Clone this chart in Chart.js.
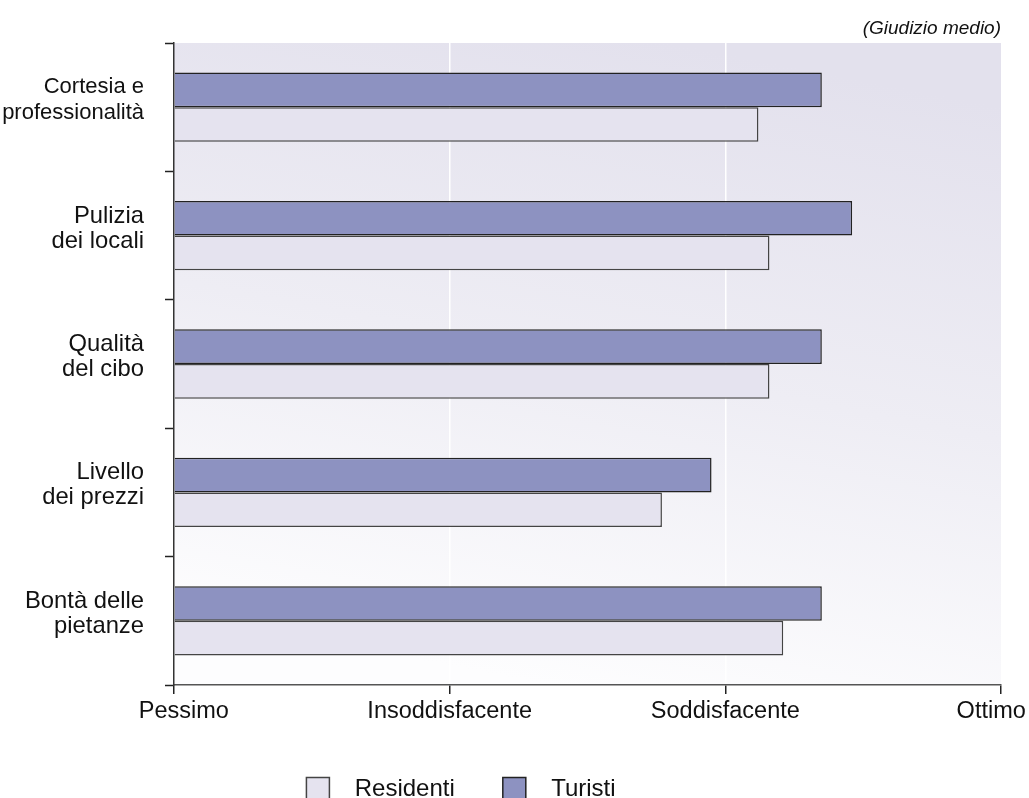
<!DOCTYPE html>
<html>
<head>
<meta charset="utf-8">
<script src="https://cdn.jsdelivr.net/npm/chart.js@4"></script>
<style>
  html, body { margin: 0; padding: 0; background: #fff; }
  #wrap { width: 1029px; height: 798px; }
</style>
</head>
<body>
<div id="wrap"><canvas id="chart" width="1029" height="798"></canvas></div>
<script>
// giudizio medio: 0 = Pessimo ... 3 = Ottimo
const categories = [
    ['Cortesia e', 'professionalità'],
    ['Pulizia', 'dei locali'],
    ['Qualità', 'del cibo'],
    ['Livello', 'dei prezzi'],
    ['Bontà delle', 'pietanze'],
];
const turisti = [2.35, 2.46, 2.35, 1.95, 2.35];
const residenti = [2.12, 2.16, 2.16, 1.77, 2.21];
const tickLabels = ['Pessimo', 'Insoddisfacente', 'Soddisfacente', 'Ottimo'];

Chart.defaults.font.family = '"Liberation Sans", Arial, sans-serif';
Chart.defaults.color = '#111';

// lavender fade behind the plot, mostly top to bottom
const plotBackground = {
    id: 'plotBackground',
    beforeDraw(chart) {
        const {ctx, chartArea: a} = chart;
        const g = ctx.createLinearGradient(a.left + a.width * 0.6, a.top, a.left + a.width * 0.45, a.bottom);
        g.addColorStop(0, '#e3e1ed');
        g.addColorStop(0.5, '#eeedf4');
        g.addColorStop(1, '#fdfdfe');
        ctx.save();
        ctx.fillStyle = g;
        ctx.fillRect(a.left, a.top, a.width, a.height);
        ctx.restore();
    }
};

// legend sits left of centre in the original
const legendShift = {
    id: 'legendShift',
    afterLayout(chart) {
        chart.legend.right -= 107;
    }
};

new Chart(document.getElementById('chart'), {
    type: 'bar',
    data: {
        labels: categories,
        datasets: [
            {
                label: 'Turisti',
                data: turisti,
                backgroundColor: '#8d92c1',
                borderColor: '#222',
                borderWidth: 1.5,
            },
            {
                label: 'Residenti',
                data: residenti,
                backgroundColor: '#e5e3ef',
                borderColor: '#444',
                borderWidth: 1.5,
            }
        ]
    },
    plugins: [plotBackground, legendShift],
    options: {
        responsive: false,
        animation: false,
        indexAxis: 'y',
        barPercentage: 1,
        categoryPercentage: 0.54,
        layout: { padding: { top: 0, left: 0, right: 0, bottom: -13 } },
        scales: {
            x: {
                min: 0,
                max: 3,
                grid: {
                    color: (c) => (c.tick && c.tick.value > 0 && c.tick.value < 3) ? '#ffffff' : 'rgba(0,0,0,0)',
                    lineWidth: 1.5,
                    tickLength: 9,
                    tickColor: '#222',
                    tickWidth: 1.5,
                },
                border: { display: true, color: '#555', width: 1.5 },
                ticks: {
                    stepSize: 1,
                    padding: 6,
                    maxRotation: 0,
                    autoSkip: false,
                    font: { size: 23.5, lineHeight: 1 },
                    callback: (v) => {
                        const t = tickLabels[v];
                        if (v === 0) return '   ' + t;
                        if (v === tickLabels.length - 1) return t + '   ';
                        return t;
                    }
                },
                afterFit: (s) => {
                    s.height = 44;
                    s.paddingRight = 28;
                }
            },
            y: {
                offset: true,
                grid: {
                    drawOnChartArea: false,
                    offset: true,
                    tickLength: 9,
                    tickColor: '#222',
                    tickWidth: 1.5,
                },
                border: { display: true, color: '#333', width: 1.5 },
                ticks: {
                    padding: 21,
                    labelOffset: -7,
                    font: (c) => c.index === 0 ? { size: 22, lineHeight: 1.18 } : { size: 23.8, lineHeight: 1.05 },
                },
                afterFit: (s) => {
                    s.width = 174;
                    s.paddingTop = 0;
                    s.paddingBottom = 0;
                }
            }
        },
        plugins: {
            tooltip: { enabled: false },
            title: {
                display: true,
                text: '(Giudizio medio)',
                align: 'end',
                fullSize: false,
                color: '#111',
                font: { size: 19, style: 'italic', weight: 'normal' },
                padding: { top: 17, bottom: 3.2 }
            },
            legend: {
                display: true,
                position: 'bottom',
                reverse: true,
                labels: {
                    color: '#111',
                    font: { size: 24 },
                    boxWidth: 23,
                    boxHeight: 23,
                    padding: 48,
                    generateLabels(chart) {
                        return Chart.defaults.plugins.legend.labels.generateLabels(chart)
                            .map(l => ({ ...l, text: '  ' + l.text }));
                    }
                }
            }
        }
    }
});
</script>
</body>
</html>
